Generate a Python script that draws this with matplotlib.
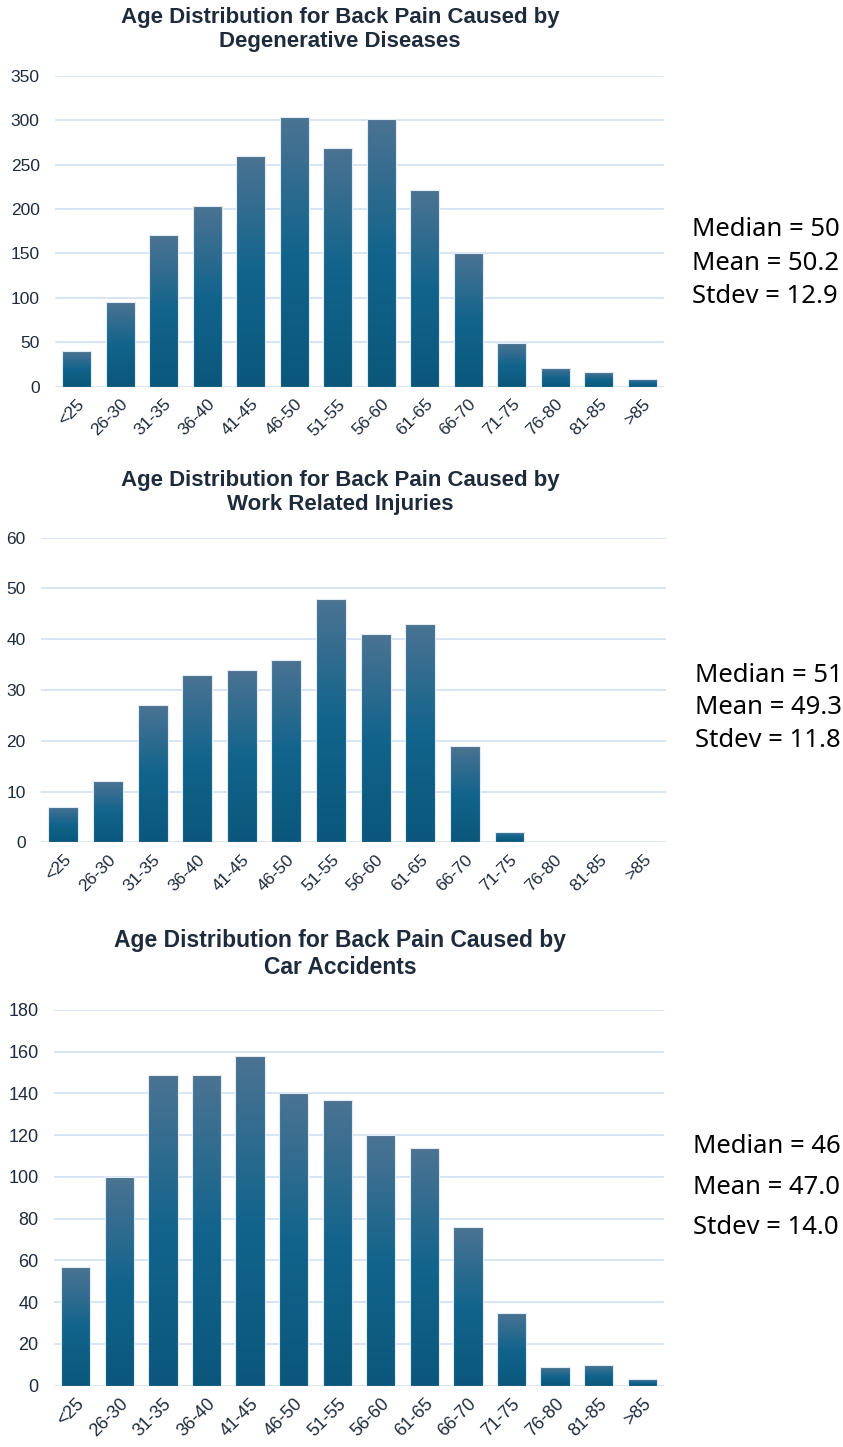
import numpy as np
import matplotlib
matplotlib.use("Agg")
from matplotlib import pyplot as plt
from matplotlib.colors import LinearSegmentedColormap

age_groups = ["<25", "26-30", "31-35", "36-40", "41-45", "46-50", "51-55",
              "56-60", "61-65", "66-70", "71-75", "76-80", "81-85", ">85"]

degenerative = [40, 95, 171, 203, 260, 303, 269, 301, 221, 150, 49, 21, 16, 9]
work_injuries = [7, 12, 27, 33, 34, 36, 48, 41, 43, 19, 2, 0, 0, 0]
car_accidents = [57, 100, 149, 149, 158, 140, 137, 120, 114, 76, 35, 9, 10, 3]

titles = ["Age Distribution for Back Pain Caused by\nDegenerative Diseases",
          "Age Distribution for Back Pain Caused by\nWork Related Injuries",
          "Age Distribution for Back Pain Caused by\nCar Accidents"]
stats = ["Median = 50\nMean = 50.2\nStdev = 12.9",
         "Median = 51\nMean = 49.3\nStdev = 11.8",
         "Median = 46\nMean = 47.0\nStdev = 14.0"]
y_max = [350, 60, 180]
y_step = [50, 10, 20]

W, H = 843, 1447
# axes boxes in pixels: left, right, top(ymax), bottom(0)
boxes = [(55, 664, 75.7, 386.7), (41, 665.7, 537.7, 842.3), (54, 664, 1010, 1385.7)]
title_y = [29.5, 492.5, 954]
stats_y = [263, 708, 1187]
stats_x = [692, 695, 693]
stats_spacing = [1.45, 1.41, 1.8]

TEXT = "#1e2b3b"
GRID = "#d5e3f3"
grad_cmap = LinearSegmentedColormap.from_list(
    "bar", [(0.0, "#0b577b"), (0.5, "#12648c"), (1.0, "#4c7392")])

fig = plt.figure(figsize=(W / 100, H / 100), dpi=100)

series = [degenerative, work_injuries, car_accidents]
for i, values in enumerate(series):
    l, r, t, b = boxes[i]
    ax = fig.add_axes([l / W, 1 - b / H, (r - l) / W, (b - t) / H])
    fam = ["Liberation Sans"]

    x = np.arange(len(age_groups))
    bars = ax.bar(x, values, width=0.67, color="none", edgecolor="#e4ecf3",
                  linewidth=0.8, zorder=3)
    # vertical gradient fill, clipped to each bar
    grad = np.linspace(0, 1, 256).reshape(-1, 1)
    for bar in bars:
        if bar.get_height() <= 0:
            continue
        x0, y0 = bar.get_x(), bar.get_y()
        im = ax.imshow(grad, cmap=grad_cmap, origin="lower", aspect="auto",
                       extent=[x0, x0 + bar.get_width(), y0, y0 + bar.get_height()],
                       zorder=2)
        im.set_clip_path(bar)

    ax.set_xlim(-0.5, len(age_groups) - 0.5)
    ax.set_ylim(0, y_max[i])
    yticks = np.arange(0, y_max[i] + 1, y_step[i])
    ax.set_yticks(yticks)
    for yt in yticks:
        ax.axhline(yt, color=GRID, lw=1.3, zorder=1)
    ax.set_xticks(x)
    ax.set_xticklabels(age_groups, rotation=45, ha="right", rotation_mode="anchor")
    for s in ax.spines.values():
        s.set_visible(False)
    ax.tick_params(length=0, colors=TEXT, labelsize=13 if i == 2 else 12.5)
    ax.tick_params(axis="y", pad=11)
    ax.tick_params(axis="x", pad=7)
    for lab in ax.get_xticklabels() + ax.get_yticklabels():
        lab.set_family(fam)

    fig.text(340 / W, 1 - title_y[i] / H, titles[i], ha="center", va="center",
             fontsize=16 if i < 2 else 16.5, fontweight="bold", color=TEXT,
             family=fam, linespacing=1.15 if i < 2 else 1.2)
    fig.text(stats_x[i] / W, 1 - stats_y[i] / H, stats[i], ha="left", va="center",
             fontsize=18.5, color="black",
             family=["Noto Sans"], linespacing=stats_spacing[i])

fig.savefig("out.png", dpi=100)
